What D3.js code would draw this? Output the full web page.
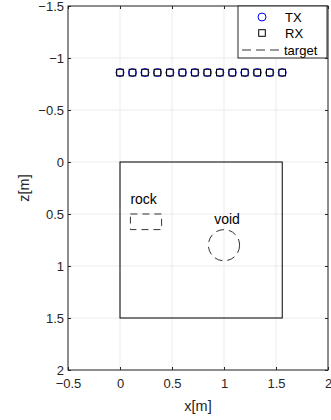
<!DOCTYPE html>
<html><head><meta charset="utf-8">
<script src="https://cdn.jsdelivr.net/npm/d3@7"></script>
<style>
body{margin:0;background:#fff;}
text{font-family:"Liberation Sans",Arial,sans-serif;}
</style></head>
<body><div id="chart"></div>
<script>
// Antenna positions along the survey line (m)
const sensorX = [0, 0.12, 0.24, 0.36, 0.48, 0.60, 0.72, 0.84, 0.96, 1.08, 1.20, 1.32, 1.44, 1.56];
const sensorZ = -0.86;
// Target block outline
const blockX = [0, 1.56];
const blockZ = [0, 1.5];
// Rock inclusion (rectangle) and void (circle)
const rockX = [0.1, 0.4];
const rockZ = [0.5, 0.65];
const voidCenter = [1.0, 0.8];
const voidRadius = 0.15;
const xTicks = [-0.5, 0, 0.5, 1, 1.5, 2];
const zTicks = [-1.5, -1, -0.5, 0, 0.5, 1, 1.5, 2];
const legendLabels = ["TX", "RX", "target"];

const W = 331, H = 420;
const m = {l: 68, r: 3, t: 6, b: 50};
const svg = d3.select("#chart").append("svg").attr("width", W).attr("height", H);

const x = d3.scaleLinear().domain([-0.5, 2]).range([m.l, W - m.r]);
const y = d3.scaleLinear().domain([-1.5, 2]).range([m.t, H - m.b]);

// grid
const g = svg.append("g");
g.selectAll(".gx").data(xTicks).enter().append("line")
  .attr("x1", d => x(d)).attr("x2", d => x(d)).attr("y1", m.t).attr("y2", H - m.b)
  .attr("stroke", "#ebebeb").attr("stroke-width", 1);
g.selectAll(".gy").data(zTicks).enter().append("line")
  .attr("y1", d => y(d)).attr("y2", d => y(d)).attr("x1", m.l).attr("x2", W - m.r)
  .attr("stroke", "#ebebeb").attr("stroke-width", 1);

// tick labels use a true minus sign
const tickFmt = d => (d < 0 ? "\u2212" : "") + d3.format("")(Math.abs(d));

svg.append("g").attr("transform", `translate(0,${H - m.b})`)
  .call(d3.axisBottom(x).tickValues(xTicks).tickSizeInner(-3).tickSizeOuter(0).tickPadding(9).tickFormat(tickFmt))
  .call(a => a.select(".domain").remove());
svg.append("g").attr("transform", `translate(0,${m.t})`)
  .call(d3.axisTop(x).tickValues(xTicks).tickSizeInner(-3).tickSizeOuter(0).tickFormat(""))
  .call(a => a.select(".domain").remove());
svg.append("g").attr("transform", `translate(${m.l},0)`)
  .call(d3.axisLeft(y).tickValues(zTicks).tickSizeInner(-3).tickSizeOuter(0).tickPadding(4).tickFormat(tickFmt))
  .call(a => a.select(".domain").remove());
svg.append("g").attr("transform", `translate(${W - m.r},0)`)
  .call(d3.axisRight(y).tickValues(zTicks).tickSizeInner(-3).tickSizeOuter(0).tickFormat(""))
  .call(a => a.select(".domain").remove());
svg.selectAll(".tick text").attr("font-size", 13).attr("fill", "#262626")
  .attr("font-family", "'Liberation Sans',Arial,sans-serif");
svg.selectAll(".tick line").attr("stroke", "#262626");

// frame
svg.append("rect").attr("x", m.l).attr("y", m.t).attr("width", W - m.r - m.l).attr("height", H - m.b - m.t)
  .attr("fill", "none").attr("stroke", "#262626").attr("stroke-width", 1);

// target block
svg.append("rect").attr("x", x(blockX[0])).attr("y", y(blockZ[0]))
  .attr("width", x(blockX[1]) - x(blockX[0])).attr("height", y(blockZ[1]) - y(blockZ[0]))
  .attr("fill", "none").attr("stroke", "#000").attr("stroke-width", 1);

// rock
svg.append("rect").attr("x", x(rockX[0])).attr("y", y(rockZ[0]))
  .attr("width", x(rockX[1]) - x(rockX[0])).attr("height", y(rockZ[1]) - y(rockZ[0]))
  .attr("fill", "none").attr("stroke", "#000").attr("stroke-width", 0.8).attr("stroke-dasharray", "7,5");
svg.append("text").attr("x", x(rockX[0])).attr("y", y(0.405))
  .attr("text-anchor", "start").attr("font-size", 14).attr("fill", "#000").text("rock");

// void
svg.append("circle").attr("cx", x(voidCenter[0])).attr("cy", y(voidCenter[1]))
  .attr("r", x(voidRadius) - x(0))
  .attr("fill", "none").attr("stroke", "#000").attr("stroke-width", 0.8).attr("stroke-dasharray", "8,5");
svg.append("text").attr("x", x(voidCenter[0]) + 3).attr("y", y(0.6))
  .attr("text-anchor", "middle").attr("font-size", 14).attr("fill", "#000").text("void");

// sensors
svg.selectAll(".tx").data(sensorX).enter().append("circle")
  .attr("cx", d => x(d)).attr("cy", y(sensorZ)).attr("r", 4)
  .attr("fill", "none").attr("stroke", "#0000ff").attr("stroke-width", 1);
svg.selectAll(".rx").data(sensorX).enter().append("rect")
  .attr("x", d => x(d) - 3.3).attr("y", y(sensorZ) - 3.3).attr("width", 6.6).attr("height", 6.6)
  .attr("fill", "none").attr("stroke", "#000").attr("stroke-width", 1);

// axis labels
svg.append("text").attr("x", (m.l + W - m.r) / 2).attr("y", 411)
  .attr("text-anchor", "middle").attr("font-size", 14.5).attr("fill", "#262626").text("x[m]");
svg.append("text").attr("transform", `translate(29,${(m.t + H - m.b) / 2}) rotate(-90)`)
  .attr("text-anchor", "middle").attr("font-size", 14.5).attr("fill", "#262626").text("z[m]");

// legend
const lg = svg.append("g").attr("transform", "translate(238,6)");
lg.append("rect").attr("width", 89).attr("height", 52).attr("fill", "#fff").attr("stroke", "#262626").attr("stroke-width", 1);
const rowY = [11, 27, 44];
lg.append("circle").attr("cx", 24).attr("cy", rowY[0]).attr("r", 4).attr("fill", "none").attr("stroke", "#0000ff");
lg.append("rect").attr("x", 20.7).attr("y", rowY[1] - 3.3).attr("width", 6.6).attr("height", 6.6).attr("fill", "none").attr("stroke", "#000");
lg.append("line").attr("x1", 4).attr("x2", 46).attr("y1", rowY[2]).attr("y2", rowY[2])
  .attr("stroke", "#000").attr("stroke-width", 0.8).attr("stroke-dasharray", "9,5");
lg.selectAll(".lt").data(legendLabels).enter().append("text")
  .attr("x", (d, i) => i < 2 ? 47 : 46).attr("y", (d, i) => rowY[i] + 5)
  .attr("font-size", 13).attr("fill", "#000").text(d => d);
</script></body></html>
